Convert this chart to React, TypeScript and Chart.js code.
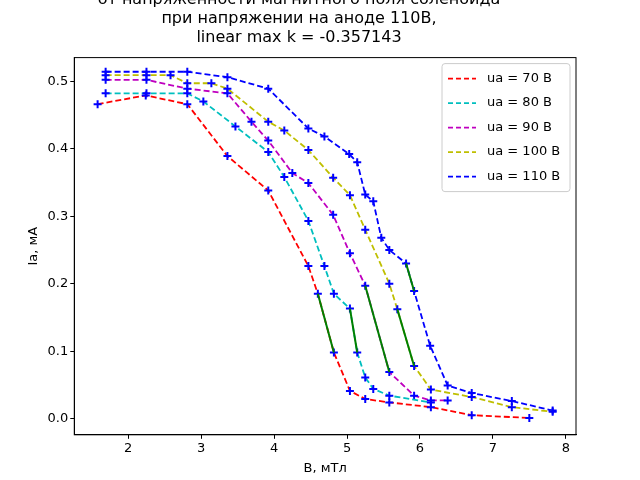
import React, { useRef, useEffect } from "react";
import Chart from "chart.js/auto";

const labels = ["ua = 70 В", "ua = 80 В", "ua = 90 В", "ua = 100 В", "ua = 110 В"];
const colors = ["#ff0000", "#00bfbf", "#bf00bf", "#bfbf00", "#0000ff"];

const b70 = [1.58, 2.24, 2.81, 3.36, 3.92, 4.47, 4.6, 4.82, 5.04, 5.25, 5.58, 6.15, 6.71, 7.5];
const i70 = [0.466, 0.479, 0.466, 0.389, 0.338, 0.226, 0.185, 0.098, 0.041, 0.029, 0.024, 0.017, 0.005, 0.001];
const b80 = [1.69, 2.25, 2.81, 3.03, 3.47, 3.92, 4.14, 4.47, 4.69, 4.82, 5.04, 5.14, 5.25, 5.36, 5.58, 6.15];
const i80 = [0.482, 0.482, 0.482, 0.47, 0.433, 0.395, 0.358, 0.293, 0.226, 0.185, 0.163, 0.098, 0.061, 0.044, 0.034, 0.024];
const b90 = [1.69, 2.25, 2.81, 3.36, 3.69, 3.92, 4.25, 4.47, 4.81, 5.04, 5.25, 5.58, 5.92, 6.15, 6.38];
const i90 = [0.502, 0.502, 0.489, 0.482, 0.44, 0.412, 0.364, 0.349, 0.302, 0.245, 0.197, 0.069, 0.034, 0.027, 0.027];
const b100 = [1.69, 2.25, 2.58, 2.81, 3.14, 3.36, 3.92, 4.14, 4.47, 4.81, 5.04, 5.25, 5.58, 5.69, 5.92, 6.15, 6.71, 7.26, 7.82];
const i100 = [0.509, 0.509, 0.509, 0.497, 0.497, 0.489, 0.44, 0.427, 0.398, 0.357, 0.331, 0.28, 0.2, 0.162, 0.078, 0.043, 0.032, 0.017, 0.01];
const b110 = [1.69, 2.25, 2.81, 3.36, 3.92, 4.47, 4.69, 5.03, 5.14, 5.25, 5.36, 5.47, 5.58, 5.81, 5.92, 6.14, 6.38, 6.71, 7.26, 7.82];
const i110 = [0.514, 0.514, 0.514, 0.506, 0.489, 0.43, 0.418, 0.392, 0.38, 0.332, 0.322, 0.268, 0.25, 0.23, 0.189, 0.108, 0.049, 0.038, 0.026, 0.012];

// steepest segments (linear fit), solid green
const fitB = [[4.6, 4.82], [5.04, 5.14], [5.25, 5.58], [5.69, 5.92], [5.81, 5.92]];
const fitI = [[0.185, 0.098], [0.163, 0.098], [0.197, 0.069], [0.162, 0.078], [0.23, 0.189]];

const seriesB = [b70, b80, b90, b100, b110];
const seriesI = [i70, i80, i90, i100, i110];
const zip = (xs: number[], ys: number[]) => xs.map((x, i) => ({ x, y: ys[i] }));

const legendPlugin = {
  id: "boxLegend",
  afterDraw(chart: any) {
    const { ctx, chartArea } = chart;
    ctx.save();
    ctx.strokeStyle = "#000";
    ctx.lineWidth = 1;
    ctx.strokeRect(chartArea.left, chartArea.top, chartArea.right - chartArea.left, chartArea.bottom - chartArea.top);
    const w = 128, h = 128, x = chartArea.right - w - 6, y = chartArea.top + 6;
    ctx.fillStyle = "rgba(255,255,255,0.8)";
    ctx.strokeStyle = "#cccccc";
    ctx.beginPath();
    ctx.roundRect(x, y, w, h, 3);
    ctx.fill();
    ctx.stroke();
    ctx.font = "13px 'DejaVu Sans'";
    ctx.textBaseline = "middle";
    labels.forEach((l, i) => {
      const ly = y + 15 + i * 24.5;
      ctx.strokeStyle = colors[i];
      ctx.lineWidth = 1.8;
      ctx.setLineDash([5, 3]);
      ctx.beginPath();
      ctx.moveTo(x + 6, ly);
      ctx.lineTo(x + 34, ly);
      ctx.stroke();
      ctx.setLineDash([]);
      ctx.fillStyle = "#000";
      ctx.fillText(l, x + 45, ly);
    });
    ctx.restore();
  },
};

export default function App() {
  const canvasRef = useRef<HTMLCanvasElement>(null);

  useEffect(() => {
    const ctx = canvasRef.current?.getContext("2d");
    if (!ctx) return;
    const datasets: any[] = [];
    seriesB.forEach((bs, k) => {
      datasets.push({
        label: labels[k],
        data: zip(bs, seriesI[k]),
        borderColor: colors[k],
        borderWidth: 1.8,
        borderDash: [6, 3],
        pointStyle: "cross",
        pointRadius: 4,
        pointBorderColor: "#0000ff",
        pointBorderWidth: 2,
        showLine: true,
        order: 2,
      });
    });
    fitB.forEach((bs, k) => {
      datasets.push({
        label: "fit" + k,
        data: zip(bs, fitI[k]),
        borderColor: "#008000",
        borderWidth: 2,
        pointRadius: 0,
        showLine: true,
        order: 1,
      });
    });
    const font = { family: "'DejaVu Sans'", size: 13 };
    const grid = { display: true, drawOnChartArea: false, drawTicks: true, tickLength: 4, color: "#000" };
    const chart = new Chart(ctx, {
      type: "scatter",
      data: { datasets },
      options: {
        animation: false,
        responsive: false,
        layout: { padding: { left: 22, right: 64, bottom: 2 } },
        plugins: {
          legend: { display: false },
          tooltip: { enabled: false },
          title: {
            display: true,
            text: ["от напряженности магнитного поля соленоида", "при напряжении на аноде 110В,", "linear max k = -0.357143"],
            color: "#000",
            font: { family: "'DejaVu Sans'", size: 16, weight: "normal" },
            padding: { top: 0, bottom: 10 },
            lineHeight: 1.15,
          },
        },
        scales: {
          x: {
            type: "linear",
            min: 1.26,
            max: 8.14,
            grid,
            border: { color: "#000" },
            ticks: { color: "#000", font, padding: 2 },
            afterBuildTicks: (s: any) => {
              s.ticks = [2, 3, 4, 5, 6, 7, 8].map((v) => ({ value: v }));
            },
            title: { display: true, text: "B, мТл", color: "#000", font, padding: 2 },
          },
          y: {
            min: -0.024,
            max: 0.535,
            grid,
            border: { color: "#000" },
            ticks: { color: "#000", font, padding: 2, callback: (v: any) => Number(v).toFixed(1) },
            afterBuildTicks: (s: any) => {
              s.ticks = [0, 0.1, 0.2, 0.3, 0.4, 0.5].map((v) => ({ value: v }));
            },
            title: { display: true, text: "Ia, мА", color: "#000", font },
          },
        },
      },
      plugins: [legendPlugin],
    });
    return () => chart.destroy();
  }, []);

  return (
    <div style={{ position: "fixed", left: 0, top: 0, width: 640, height: 480, overflow: "hidden", background: "#fff" }}>
      <canvas ref={canvasRef} width={640} height={490} style={{ marginTop: -10, display: "block" }} />
    </div>
  );
}
